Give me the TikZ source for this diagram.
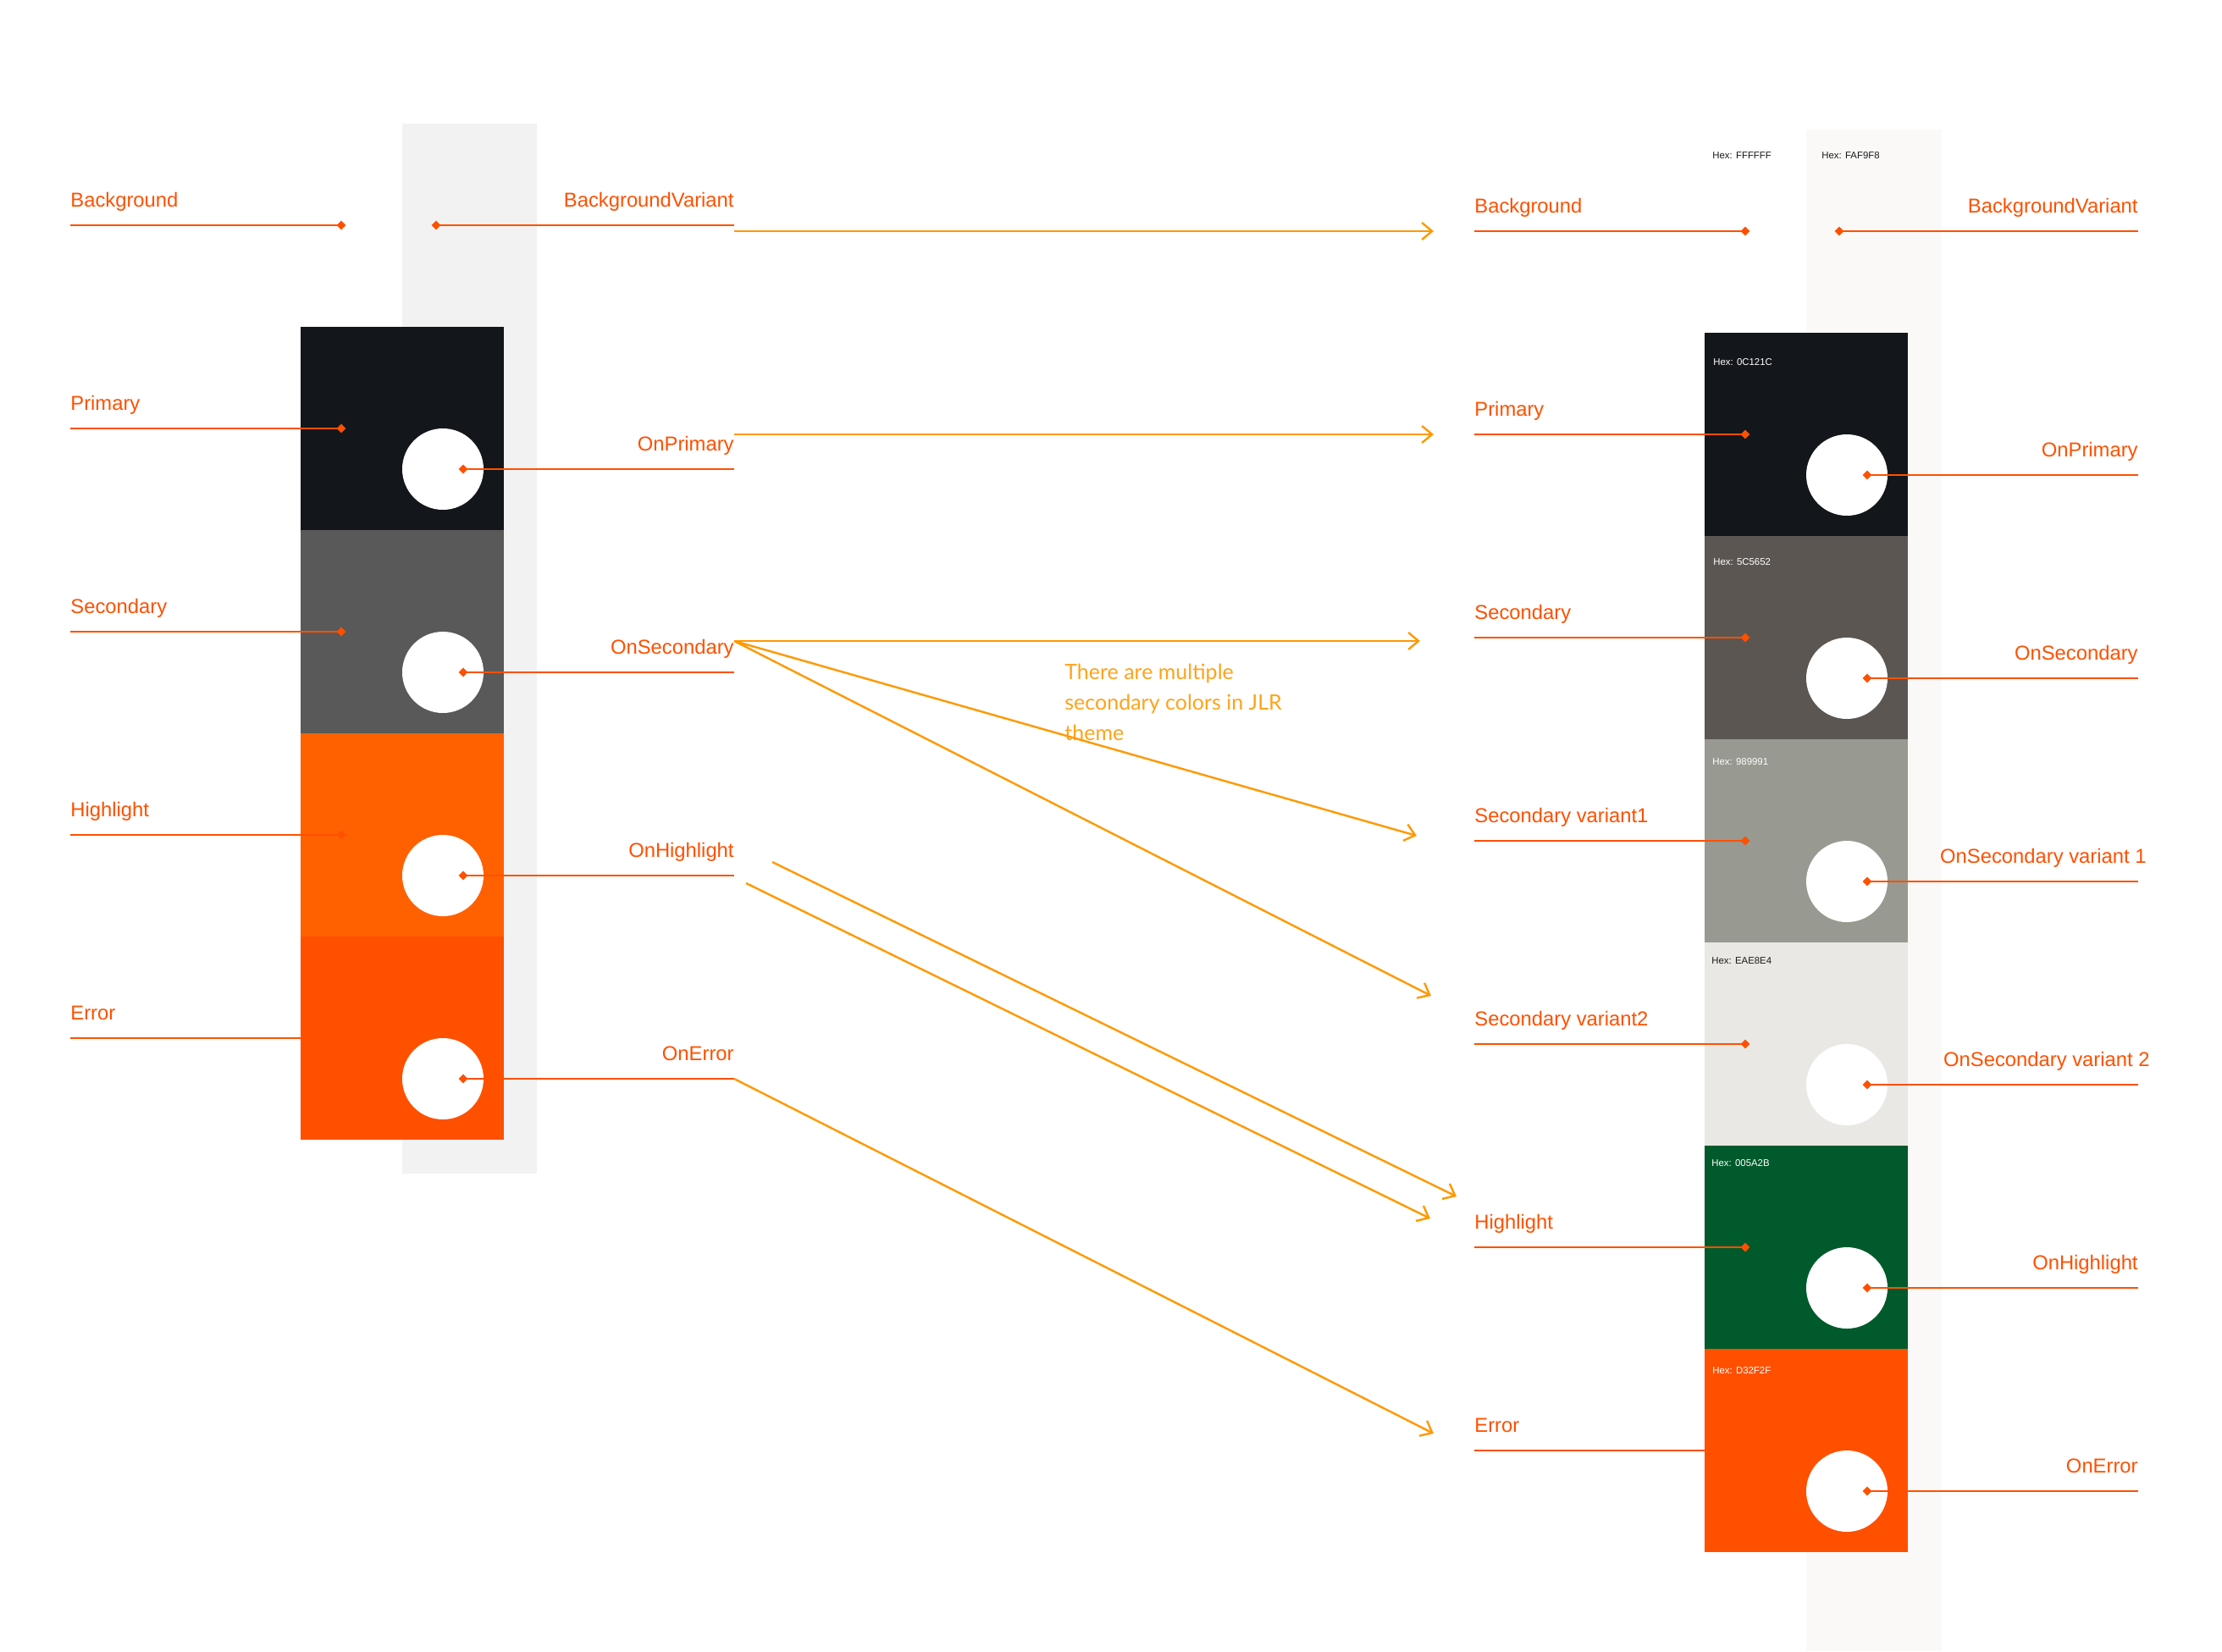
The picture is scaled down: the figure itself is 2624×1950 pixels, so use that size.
\documentclass[tikz,border=0pt]{standalone}
\usepackage{fontspec}
\setmainfont{Liberation Sans}
\newfontfamily\notefont{Lato}
\usetikzlibrary{arrows.meta,shapes.geometric}
\definecolor{lab}{HTML}{FF5000}
\definecolor{arr}{HTML}{FF9900}
\definecolor{notec}{HTML}{FFA31A}
\definecolor{stripL}{HTML}{F2F2F2}
\definecolor{stripR}{HTML}{FAF9F8}
\definecolor{cPrim}{HTML}{13161B}
\definecolor{cSecL}{HTML}{595959}
\definecolor{cHighL}{HTML}{FF6000}
\definecolor{cErr}{HTML}{FF5000}
\definecolor{cSecR}{HTML}{5C5652}
\definecolor{cVarA}{HTML}{989991}
\definecolor{cVarB}{HTML}{EAE8E4}
\definecolor{cGreen}{HTML}{005A2B}
\definecolor{hexdark}{HTML}{1A1A1A}
\newcommand\labLd[5]{%
  \coordinate (#1s) at (#2,#4);
  \node[dia] (#1d) at (#3,#4) {};
  \draw[labline] (#1s) -- (#1d.center);
  \node[labtxt,anchor=base west] (#1t) at (#2,#4-22) {#5};}
\newcommand\labLn[5]{%
  \coordinate (#1s) at (#2,#4);
  \coordinate (#1e) at (#3,#4);
  \draw[labline] (#1s) -- (#1e);
  \node[labtxt,anchor=base west] (#1t) at (#2,#4-22) {#5};}
\newcommand\labRd[6]{%
  \node[dia] (#1d) at (#2,#4) {};
  \coordinate (#1e) at (#3,#4);
  \draw[labline] (#1d.center) -- (#1e);
  \node[labtxt,anchor=base east] (#1t) at (#6,#4-22) {#5};}
\begin{document}
\begin{tikzpicture}[x=0.5pt,y=-0.5pt,
  labline/.style={draw=lab,line width=1pt},
  dia/.style={shape=diamond,fill=lab,inner sep=0pt,minimum width=5.6pt,minimum height=5.6pt},
  labtxt/.style={text=lab,inner sep=0pt,font=\fontsize{11.9pt}{14pt}\selectfont},
  hextxt/.style={inner sep=0pt,anchor=base west,font=\fontsize{5.7pt}{7pt}\selectfont},
  conn/.style={draw=arr,line width=1.2pt,-{Straight Barb[length=6pt,width=10pt]}},
  circ/.style={circle,fill=white,minimum size=48pt,inner sep=0pt}]
\useasboundingbox[fill=white] (0,0) rectangle (2624,1950);

% ---------- left column ----------
\fill[stripL] (475,146) rectangle (634,1386);
\fill[cPrim]  (355,386)  rectangle (595,626);
\fill[cSecL]  (355,626)  rectangle (595,866);
\fill[cHighL] (355,866)  rectangle (595,1106);
\fill[cErr]   (355,1106) rectangle (595,1346);
\node[circ] (lc1) at (523,554) {};
\node[circ] (lc2) at (523,794) {};
\node[circ] (lc3) at (523,1034) {};
\node[circ] (lc4) at (523,1274) {};

\labLd{lbg}{83}{403}{266}{Background}
\labLd{lpr}{83}{403}{506}{Primary}
\labLd{lse}{83}{403}{746}{Secondary}
\labLd{lhi}{83}{403}{986}{Highlight}
\labLn{ler}{83}{355}{1226}{Error}
\labRd{lbv}{515}{867}{266}{BackgroundVariant}{867}
\labRd{lop}{547}{867}{554}{OnPrimary}{867}
\labRd{los}{547}{867}{794}{OnSecondary}{867}
\labRd{loh}{547}{867}{1034}{OnHighlight}{867}
\labRd{loe}{547}{867}{1274}{OnError}{867}

% ---------- right column ----------
\fill[stripR] (2133,153) rectangle (2293,1950);
\fill[cPrim]  (2013,393)  rectangle (2253,633);
\fill[cSecR]  (2013,633)  rectangle (2253,873);
\fill[cVarA]  (2013,873)  rectangle (2253,1113);
\fill[cVarB]  (2013,1113) rectangle (2253,1353);
\fill[cGreen] (2013,1353) rectangle (2253,1593);
\fill[cErr]   (2013,1593) rectangle (2253,1833);
\node[circ] (rc1) at (2181,561) {};
\node[circ] (rc2) at (2181,801) {};
\node[circ] (rc3) at (2181,1041) {};
\node[circ] (rc4) at (2181,1281) {};
\node[circ] (rc5) at (2181,1521) {};
\node[circ] (rc6) at (2181,1761) {};

\node[hextxt,text=hexdark] (hx0) at (2022,187) {Hex: FFFFFF};
\node[hextxt,text=hexdark] (hx1) at (2151,187) {Hex: FAF9F8};
\node[hextxt,text=white]   (hx2) at (2023,431) {Hex: 0C121C};
\node[hextxt,text=white]   (hx3) at (2023,667) {Hex: 5C5652};
\node[hextxt,text=white]   (hx4) at (2022,903) {Hex: 989991};
\node[hextxt,text=hexdark] (hx5) at (2021,1138) {Hex: EAE8E4};
\node[hextxt,text=white]   (hx6) at (2021,1377) {Hex: 005A2B};
\node[hextxt,text=white]   (hx7) at (2022,1622) {Hex: D32F2F};

\labLd{rbg}{1741}{2061}{273}{Background}
\labLd{rpr}{1741}{2061}{513}{Primary}
\labLd{rse}{1741}{2061}{753}{Secondary}
\labLd{rv1}{1741}{2061}{993}{Secondary variant1}
\labLd{rv2}{1741}{2061}{1233}{Secondary variant2}
\labLd{rhi}{1741}{2061}{1473}{Highlight}
\labLn{rer}{1741}{2013}{1713}{Error}
\labRd{rbv}{2172}{2525}{273}{BackgroundVariant}{2525}
\labRd{rop}{2205}{2525}{561}{OnPrimary}{2525}
\labRd{ros}{2205}{2525}{801}{OnSecondary}{2525}
\labRd{ro1}{2205}{2525}{1041}{OnSecondary variant 1}{2535}
\labRd{ro2}{2205}{2525}{1281}{OnSecondary variant 2}{2539}
\labRd{roh}{2205}{2525}{1521}{OnHighlight}{2525}
\labRd{roe}{2205}{2525}{1761}{OnError}{2525}

% ---------- note ----------
\node[inner sep=0pt,anchor=north west,align=left,text=notec,
      font=\notefont\fontsize{12.5pt}{18pt}\selectfont] (note) at (1257,784)
  {There are multiple\\secondary colors in JLR\\theme};

% ---------- mapping arrows ----------
\coordinate (a1s) at (867,273);  \coordinate (a1e) at (1693,273);
\coordinate (a2s) at (867,513);  \coordinate (a2e) at (1693,513);
\coordinate (a3s) at (867,757);  \coordinate (a3e) at (1677,757);
\coordinate (a4e) at (1673,987);
\coordinate (a5e) at (1690,1176);
\coordinate (a6s) at (912,1018); \coordinate (a6e) at (1720,1413);
\coordinate (a7s) at (881,1043); \coordinate (a7e) at (1689,1439);
\coordinate (a8s) at (867,1274); \coordinate (a8e) at (1693,1693);
\draw[conn] (a1s) -- (a1e);
\draw[conn] (a2s) -- (a2e);
\draw[conn] (a3s) -- (a3e);
\draw[conn] (a3s) -- (a4e);
\draw[conn] (a3s) -- (a5e);
\draw[conn] (a6s) -- (a6e);
\draw[conn] (a7s) -- (a7e);
\draw[conn] (a8s) -- (a8e);
\end{tikzpicture}
\end{document}
